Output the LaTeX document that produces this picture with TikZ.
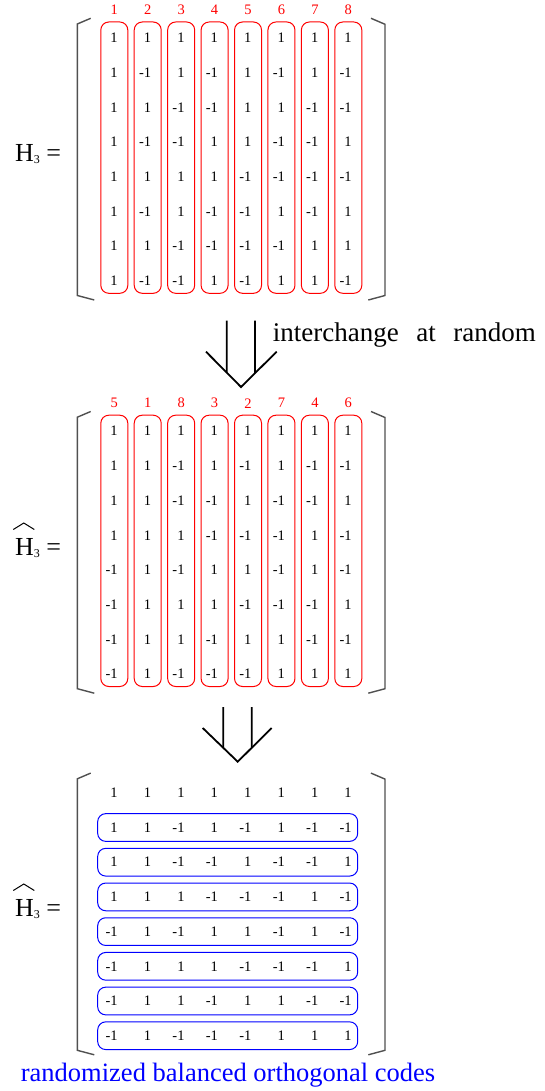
\documentclass[tikz,border=0pt]{standalone}
\usepackage{fontspec}
\setmainfont{Liberation Serif}
\usetikzlibrary{calc}

\definecolor{codered}{RGB}{255,0,0}
\definecolor{codeblue}{RGB}{0,0,255}
\definecolor{bracketgray}{RGB}{80,80,80}

\tikzset{
  entry/.style={anchor=east, inner sep=0pt, font=\fontsize{14.5}{14.5}\selectfont},
  collabel/.style={inner sep=0pt, text=codered, font=\fontsize{14.5}{14.5}\selectfont},
  colbox/.style={draw=codered, line width=1pt, rounded corners=8pt, inner sep=0pt,
                 minimum width=27pt, minimum height=271.3pt},
  rowbox/.style={draw=codeblue, line width=1pt, rounded corners=8pt, inner sep=0pt,
                 minimum width=260pt, minimum height=27.7pt},
  bracket/.style={draw=bracketgray, line width=1.4pt},
  eqlabel/.style={anchor=base west, inner sep=0pt, font=\fontsize{26}{26}\selectfont},
  bigarrow/.style={draw=black, line width=1.8pt},
  hatline/.style={draw=black, line width=1pt},
  caption/.style={anchor=base west, inner sep=0pt},
}

\newcommand\subthree{\raisebox{-2pt}{\fontsize{12}{12}\selectfont 3}}

% rows of the Hadamard matrix and of its column-permuted version
\def\rowsH{{1,1,1,1,1,1,1,1},{1,-1,1,-1,1,-1,1,-1},{1,1,-1,-1,1,1,-1,-1},{1,-1,-1,1,1,-1,-1,1},%
{1,1,1,1,-1,-1,-1,-1},{1,-1,1,-1,-1,1,-1,1},{1,1,-1,-1,-1,-1,1,1},{1,-1,-1,1,-1,1,1,-1}}
\def\rowsP{{1,1,1,1,1,1,1,1},{1,1,-1,1,-1,1,-1,-1},{1,1,-1,-1,1,-1,-1,1},{1,1,1,-1,-1,-1,1,-1},%
{-1,1,-1,1,1,-1,1,-1},{-1,1,1,1,-1,-1,-1,1},{-1,1,1,-1,1,1,-1,-1},{-1,1,-1,-1,-1,1,1,1}}

% square brackets of a matrix
\newcommand\matbrackets{%
  \draw[bracket] (90.7,18.3) -- (77.3,24) -- (77.3,295.5) -- (94.3,300);
  \draw[bracket] (371,18.3) -- (385,24.3) -- (385,295.5) -- (368.3,300);
}
% entries of a matrix: #1 node prefix, #2 list of rows
\newcommand\matentries[2]{%
  \foreach \row [count=\r] in #2 {
    \foreach \v [count=\c] in \row {
      \node[entry] (#1-\r-\c) at ({117.9+33.43*(\c-1)},{38+34.7*(\r-1)}) {\v};
    }
  }
}
% red column frames with their column numbers: #1 node prefix, #2 labels
\newcommand\matcolumns[2]{%
  \foreach \lab [count=\c] in {#2} {
    \node[collabel] (#1-lab-\c) at ({114.3+33.43*(\c-1)},10) {\lab};
    \node[colbox] (#1-col-\c) at ({114.3+33.43*(\c-1)},157.65) {};
  }
}

\begin{document}
\begin{tikzpicture}[x=1pt,y=-1pt]
\useasboundingbox (0,0) rectangle (545,1091);

% ---- H_3 ----
\node[eqlabel] (h-lbl) at (15,161.7) {H\subthree{} =};
\begin{scope}
  \matbrackets
  \matcolumns{h}{1,2,3,4,5,6,7,8}
  \matentries{h}{\rowsH}
\end{scope}

% ---- first arrow ----
\coordinate (a1l) at (206,351.7);
\coordinate (a1tip) at (241,387);
\coordinate (a1r) at (276.7,351.7);
\coordinate (a1s1) at (226.7,320.7);
\coordinate (a1s2) at (255,320.7);
\coordinate (a1b1) at (226.7,400);
\coordinate (a1b2) at (255,400);
\draw[bigarrow] (a1l) -- (a1tip) -- (a1r);
\draw[bigarrow] (a1s1) -- (intersection of a1s1--a1b1 and a1l--a1tip);
\draw[bigarrow] (a1s2) -- (intersection of a1s2--a1b2 and a1r--a1tip);
\node[caption, font=\fontsize{27}{27}\selectfont] (interchange) at (272.7,341.7)
  {interchange\hspace{17.5pt}at\hspace{17.5pt}random};

% ---- permuted columns ----
\node[eqlabel] (p-lbl) at (15,555) {H\subthree{} =};
\draw[hatline] ($(p-lbl.base west)+(-1.7,-25.5)$) -- ++(10.5,-6.5) -- ++(10.5,6.5);
\begin{scope}[shift={(0,393.2)}]
  \matbrackets
  \matcolumns{p}{5,1,8,3,2,7,4,6}
  \matentries{p}{\rowsP}
\end{scope}

% ---- second arrow ----
\coordinate (a2l) at (202.7,728);
\coordinate (a2tip) at (237.7,761.7);
\coordinate (a2r) at (271.7,728);
\coordinate (a2s1) at (223.3,707);
\coordinate (a2s2) at (251.7,707);
\coordinate (a2b1) at (223.3,780);
\coordinate (a2b2) at (251.7,780);
\draw[bigarrow] (a2l) -- (a2tip) -- (a2r);
\draw[bigarrow] (a2s1) -- (intersection of a2s1--a2b1 and a2l--a2tip);
\draw[bigarrow] (a2s2) -- (intersection of a2s2--a2b2 and a2r--a2tip);

% ---- rows as codes ----
\node[eqlabel] (c-lbl) at (15,916) {H\subthree{} =};
\draw[hatline] ($(c-lbl.base west)+(-1.7,-25.5)$) -- ++(10.5,-6.5) -- ++(10.5,6.5);
\begin{scope}[shift={(0,754.8)}]
  \matbrackets
  \matentries{c}{\rowsP}
  \foreach \r in {2,...,8} {
    \node[rowbox] (c-row-\r) at (227.7,{38+34.7*(\r-1)}) {};
  }
\end{scope}
\node[caption, text=codeblue, font=\fontsize{26.5}{26.5}\selectfont] (codes) at (20.7,1081.5)
  {randomized balanced orthogonal codes};

\end{tikzpicture}
\end{document}
